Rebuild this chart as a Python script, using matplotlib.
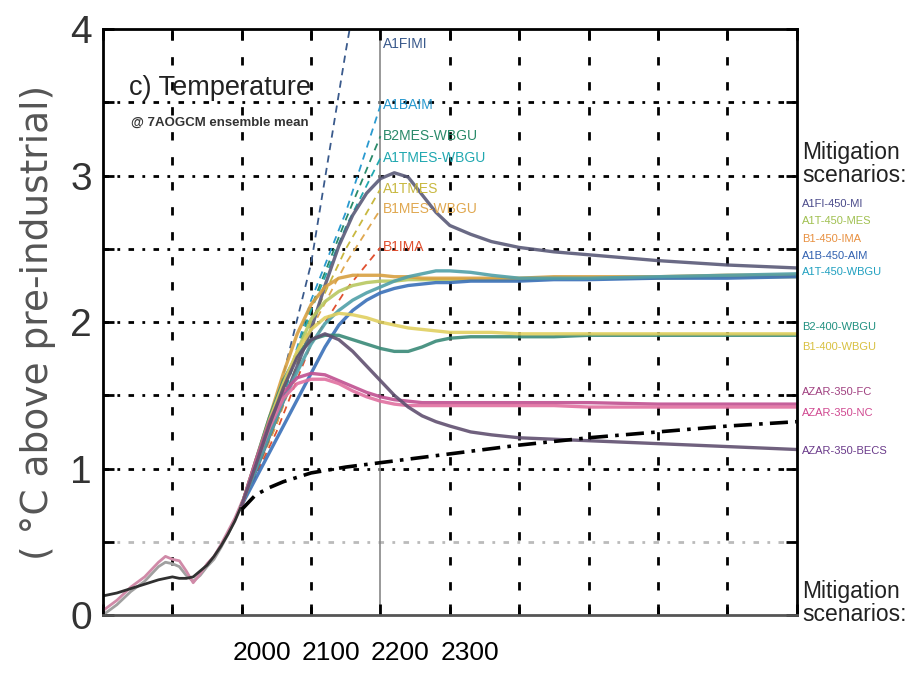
# Temperature projections: baseline and mitigation scenarios

import matplotlib
matplotlib.use("Agg")
import matplotlib.pyplot as plt
import matplotlib.transforms as mtransforms

NARROW = ["Liberation Sans", "DejaVu Sans"]

# Observed record (deg C above pre-industrial)
hist_years = [1900, 1910, 1920, 1930, 1940, 1945, 1950, 1955, 1960, 1965, 1970, 1975, 1980, 1985, 1990, 1995, 2000]
hist_black = [0.13, 0.15, 0.18, 0.21, 0.24, 0.25, 0.26, 0.25, 0.25, 0.26, 0.30, 0.34, 0.40, 0.47, 0.55, 0.64, 0.75]
hist_pink = [0.03, 0.10, 0.19, 0.26, 0.36, 0.40, 0.38, 0.37, 0.30, 0.22, 0.28, 0.35, 0.40, 0.48, 0.57, 0.66, 0.77]
hist_gray = [0.00, 0.07, 0.16, 0.23, 0.33, 0.36, 0.35, 0.33, 0.27, 0.23, 0.27, 0.33, 0.38, 0.46, 0.55, 0.65, 0.76]

# Baseline (no mitigation) scenarios, to 2100
base_years = [2000, 2025, 2050, 2075, 2100]
base_names = ["A1FIMI", "A1BAIM", "B2MES-WBGU", "A1TMES-WBGU", "A1TMES", "B1MES-WBGU", "B1IMA"]
base_values = [
    [0.75, 1.45, 2.40, 3.85, 5.20],
    [0.75, 1.35, 2.15, 2.75, 3.48],
    [0.75, 1.35, 2.10, 2.70, 3.27],
    [0.75, 1.35, 2.08, 2.65, 3.12],
    [0.75, 1.30, 2.00, 2.50, 2.91],
    [0.75, 1.30, 1.95, 2.40, 2.77],
    [0.75, 1.25, 1.85, 2.22, 2.51],
]
base_colors = ["#3a5a8c", "#2a9ad0", "#2a8a6a", "#20a8b0", "#c8b840", "#e0a850", "#e05030"]

# Mitigation scenarios
mit_years = [2000, 2010, 2020, 2030, 2040, 2050, 2060, 2070, 2080, 2090, 2100, 2110,
             2120, 2130, 2140, 2150, 2165, 2180, 2200, 2225, 2250, 2300, 2350, 2400]
mit_names = ["A1FI-450-MI", "A1T-450-MES", "B1-450-IMA", "A1B-450-AIM", "A1T-450-WBGU",
             "B2-400-WBGU", "B1-400-WBGU", "AZAR-350-FC", "AZAR-350-NC", "AZAR-350-BECS"]
a1fi_450_mi = [0.75, 0.98, 1.22, 1.46, 1.70, 1.95, 2.25, 2.52, 2.73, 2.88, 2.98, 3.02,
               2.99, 2.87, 2.75, 2.66, 2.60, 2.55, 2.51, 2.48, 2.46, 2.42, 2.39, 2.37]
a1t_450_mes = [0.75, 1.02, 1.29, 1.55, 1.80, 2.02, 2.14, 2.21, 2.25, 2.27, 2.28, 2.28,
               2.29, 2.29, 2.29, 2.29, 2.29, 2.29, 2.29, 2.30, 2.30, 2.30, 2.31, 2.31]
b1_450_ima = [0.75, 1.05, 1.35, 1.65, 1.92, 2.12, 2.24, 2.30, 2.32, 2.32, 2.32, 2.31,
              2.31, 2.30, 2.30, 2.30, 2.30, 2.30, 2.30, 2.31, 2.31, 2.31, 2.32, 2.32]
a1b_450_aim = [0.75, 0.93, 1.11, 1.29, 1.47, 1.65, 1.83, 1.98, 2.08, 2.15, 2.20, 2.23,
               2.25, 2.26, 2.27, 2.27, 2.28, 2.28, 2.28, 2.29, 2.29, 2.30, 2.30, 2.31]
a1t_450_wbgu = [0.75, 0.99, 1.23, 1.46, 1.66, 1.85, 1.99, 2.08, 2.15, 2.20, 2.24, 2.28,
                2.31, 2.33, 2.35, 2.35, 2.34, 2.32, 2.30, 2.30, 2.30, 2.31, 2.32, 2.33]
b2_400_wbgu = [0.75, 1.05, 1.35, 1.60, 1.78, 1.88, 1.91, 1.91, 1.88, 1.85, 1.82, 1.80,
               1.80, 1.83, 1.87, 1.89, 1.90, 1.90, 1.90, 1.90, 1.91, 1.91, 1.91, 1.91]
b1_400_wbgu = [0.75, 1.04, 1.33, 1.58, 1.80, 1.95, 2.03, 2.06, 2.05, 2.03, 2.00, 1.98,
               1.96, 1.95, 1.94, 1.93, 1.93, 1.93, 1.92, 1.92, 1.92, 1.92, 1.92, 1.92]
azar_350_fc = [0.75, 1.05, 1.32, 1.52, 1.62, 1.65, 1.64, 1.60, 1.56, 1.52, 1.49, 1.47,
               1.46, 1.45, 1.45, 1.45, 1.45, 1.45, 1.45, 1.45, 1.45, 1.44, 1.44, 1.44]
azar_350_nc = [0.75, 1.03, 1.28, 1.48, 1.58, 1.61, 1.61, 1.58, 1.53, 1.49, 1.46, 1.44,
               1.43, 1.43, 1.43, 1.43, 1.43, 1.43, 1.43, 1.43, 1.42, 1.42, 1.42, 1.42]
azar_350_becs = [0.75, 1.02, 1.30, 1.55, 1.76, 1.88, 1.92, 1.88, 1.80, 1.70, 1.60, 1.50,
                 1.42, 1.36, 1.32, 1.29, 1.25, 1.23, 1.21, 1.20, 1.19, 1.17, 1.15, 1.13]
mit_values = [a1fi_450_mi, a1t_450_mes, b1_450_ima, a1b_450_aim, a1t_450_wbgu,
              b2_400_wbgu, b1_400_wbgu, azar_350_fc, azar_350_nc, azar_350_becs]
mit_line_colors = ["#5a5a78", "#b8c860", "#d8a040", "#3a70b8", "#50a0a8",
                   "#3a8a78", "#e0d060", "#c05090", "#e070a0", "#605070"]
mit_text_colors = ["#4a4a8a", "#a0c050", "#e89040", "#3060b0", "#20a0c0",
                   "#209080", "#d8c040", "#a04080", "#d04890", "#6a3a8a"]
# vertical position of the scenario names right of the plot (deg C)
mit_label_y = [2.81, 2.69, 2.57, 2.45, 2.34, 1.97, 1.83, 1.52, 1.38, 1.12]

# Constant-composition commitment (black dash-dot)
commit_years = [2000, 2010, 2020, 2030, 2040, 2050, 2075, 2100, 2150, 2200, 2250, 2300, 2350, 2400]
commit_values = [0.72, 0.82, 0.87, 0.91, 0.94, 0.97, 1.01, 1.04, 1.10, 1.16, 1.21, 1.25, 1.29, 1.32]

# Printed year labels (they sit off the grid in the source figure)
year_labels = [2000, 2100, 2200, 2300]

fig = plt.figure(figsize=(9.15, 6.81), dpi=100)
ax = fig.add_axes([0.1126, 0.097, 0.758, 0.86])

# history
ax.plot(hist_years, hist_gray, color="#a0a0a0", lw=2)
ax.plot(hist_years, hist_pink, color="#d08aa8", lw=2)
ax.plot(hist_years, hist_black, color="#303030", lw=2)

# baselines
for vals, col in zip(base_values, base_colors):
    ax.plot(base_years, vals, color=col, lw=1.3, ls=(0, (4, 3)))

# mitigation
for vals, col in zip(mit_values, mit_line_colors):
    ax.plot(mit_years, vals, color=col, lw=2.4, alpha=0.9)

ax.plot(commit_years, commit_values, color="black", lw=2.6, ls=(0, (5, 2, 1, 2)))

ax.set_xlim(1900, 2400)
ax.set_ylim(0, 4)

# grid
grid_ls = (0, (2, 3, 1, 3))
for yv in [0.5, 1, 1.5, 2, 2.5, 3, 3.5]:
    ax.axhline(yv, color="#bbbbbb" if yv == 0.5 else "black", lw=2, ls=grid_ls, zorder=0)
for xv in range(1950, 2400, 50):
    if xv == 2100:
        ax.axvline(xv, color="#888888", lw=1.2, zorder=0)
    else:
        ax.axvline(xv, color="black", lw=2, ls=(0, (3, 6)), zorder=0)

ax.set_xticks(range(1900, 2401, 50))
ax.set_xticklabels([])
ax.set_yticks([0, 1, 2, 3, 4])
ax.set_yticks([0.5, 1.5, 2.5, 3.5], minor=True)
ax.tick_params(which="both", direction="in", length=8, width=2, top=True, right=True)
ax.tick_params(axis="y", labelsize=28, pad=8)
for lab in ax.get_yticklabels():
    lab.set_family(NARROW)
    lab.set_color("#333333")
for sp in ax.spines.values():
    sp.set_linewidth(2)
ax.spines["bottom"].set_color("#555555")

# year labels on a helper axis
def to_label(x):
    return 1770 + (x - 1900) * 2.006

def from_label(x):
    return 1900 + (x - 1770) / 2.006

sec = ax.secondary_xaxis("bottom", functions=(to_label, from_label))
sec.set_xticks(year_labels)
sec.set_xticklabels([str(y) for y in year_labels])
sec.tick_params(length=0, pad=19, labelsize=19)
sec.spines["bottom"].set_visible(False)
for lab in sec.get_xticklabels():
    lab.set_family(NARROW)

ax.set_ylabel("( °C above pre-industrial)", fontsize=27, color="#555555", labelpad=10)

# titles
ax.text(0.038, 0.90, "c) Temperature", transform=ax.transAxes, fontsize=19.5,
        family=NARROW, va="center", color="#222222")
ax.text(0.040, 0.84, "@ 7AOGCM ensemble mean", transform=ax.transAxes, fontsize=9.5,
        family=NARROW, fontweight="bold", va="center", color="#333333")

# baseline labels at 2100
for name, vals, col in zip(base_names, base_values, base_colors):
    ax.text(2101.5, min(vals[-1], 3.9), name, color=col, fontsize=10, family=NARROW,
            va="center", ha="left")

# mitigation labels right of the axes
trans = mtransforms.blended_transform_factory(ax.transAxes, ax.transData)
ax.text(1.008, 3.08, "Mitigation\nscenarios:", transform=trans, fontsize=16.5, family=NARROW,
        va="center", ha="left", linespacing=1.0, clip_on=False, color="#222222")
for name, yv, col in zip(mit_names, mit_label_y, mit_text_colors):
    ax.text(1.008, yv, name, transform=trans, fontsize=8, family=NARROW, color=col,
            va="center", ha="left", clip_on=False)
ax.text(1.008, 0.08, "Mitigation\nscenarios:", transform=trans, fontsize=16.5, family=NARROW,
        va="center", ha="left", linespacing=1.0, clip_on=False, color="#222222")

fig.savefig("out.png", dpi=100)
